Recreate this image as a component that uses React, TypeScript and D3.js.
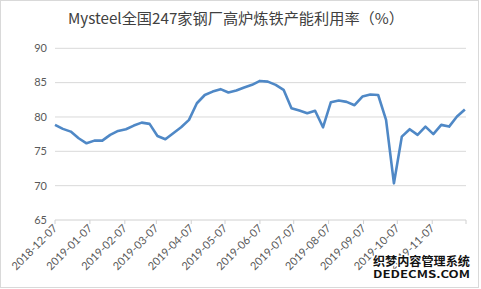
import React from "react";
import * as d3 from "d3";

const title = "Mysteel全国247家钢厂高炉炼铁产能利用率（%）";
const startDate = "2018-12-07";
const endDate = "2019-12-07";
const yTicks = [65, 70, 75, 80, 85, 90];
const xTickLabels = [
  "2018-12-07", "2019-01-07", "2019-02-07", "2019-03-07", "2019-04-07", "2019-05-07",
  "2019-06-07", "2019-07-07", "2019-08-07", "2019-09-07", "2019-10-07", "2019-11-07",
];
const values = [
  78.85, 78.27, 77.87, 76.9, 76.17, 76.56, 76.56, 77.4, 77.97, 78.22,
  78.75, 79.18, 79.0, 77.24, 76.76, 77.64, 78.5, 79.58, 82.0, 83.2,
  83.7, 84.05, 83.56, 83.85, 84.3, 84.68, 85.25, 85.15, 84.68, 83.95,
  81.28, 80.93, 80.55, 80.9, 78.5, 82.15, 82.39, 82.2, 81.71, 82.98,
  83.27, 83.2, 79.58, 70.34, 77.14, 78.22, 77.4, 78.6, 77.5, 78.85,
  78.6, 80.06, 81.1,
];

const parse = d3.timeParse("%Y-%m-%d");

export default function App() {
  const W = 481, H = 289;
  const left = 55, right = 466, top = 48.3, bottom = 220;
  const start = parse(startDate)!;
  const x = d3.scaleTime().domain([start, parse(endDate)!]).range([left, right]);
  const y = d3.scaleLinear().domain([65, 90]).range([bottom, top]);
  const data = values.map((v, i) => ({ d: d3.timeDay.offset(start, i * 7), v }));
  const line = d3.line<{ d: Date; v: number }>().x((p) => x(p.d)).y((p) => y(p.v));
  const tickDates = [...xTickLabels, endDate].map((s) => parse(s)!);

  return (
    <svg width={W} height={H} style={{ position: "absolute", left: 0, top: 0, background: "#fff" }}>
      <rect x={0.5} y={0.5} width={478} height={287} fill="#fff" stroke="#d9d9d9" />
      <text x={236} y={24} textAnchor="middle" fontSize={15} fill="#404040"
        fontFamily="'Noto Sans CJK SC', sans-serif" textLength={336} lengthAdjust="spacingAndGlyphs">{title}</text>
      {yTicks.map((t) => (
        <g key={t}>
          {t !== 65 && <line x1={left} x2={right} y1={y(t)} y2={y(t)} stroke="#d9d9d9" strokeWidth={1} />}
          <text x={47} y={y(t)} dy="0.35em" textAnchor="end" fontSize={11} fill="#595959"
            fontFamily="Lato, 'Noto Sans', sans-serif">{t}</text>
        </g>
      ))}
      <line x1={left} x2={right} y1={bottom} y2={bottom} stroke="#d0d0d0" strokeWidth={1} />
      {tickDates.map((d, i) => (
        <line key={i} x1={x(d)} x2={x(d)} y1={bottom} y2={bottom + 4} stroke="#d0d0d0" strokeWidth={1} />
      ))}
      {xTickLabels.map((s) => {
        const px = x(parse(s)!);
        return (
          <text key={s} transform={`translate(${px + 3},${bottom + 9}) rotate(-45)`} textAnchor="end"
            fontSize={11} fill="#595959" fontFamily="Lato, 'Noto Sans', sans-serif">{s}</text>
        );
      })}
      <path d={line(data) || ""} fill="none" stroke="#4f88c6" strokeWidth={2.6} strokeLinejoin="round" />
      <g fontFamily="'Noto Sans CJK SC', sans-serif" fontWeight="bold" fill="#111" stroke="#fff" strokeWidth={2.5}
        style={{ paintOrder: "stroke" }}>
        <text x={373} y={266} fontSize={12} textLength={97} lengthAdjust="spacingAndGlyphs">织梦内容管理系统</text>
        <text x={373} y={278} fontSize={10} textLength={97} lengthAdjust="spacingAndGlyphs">DEDECMS.COM</text>
      </g>
    </svg>
  );
}
